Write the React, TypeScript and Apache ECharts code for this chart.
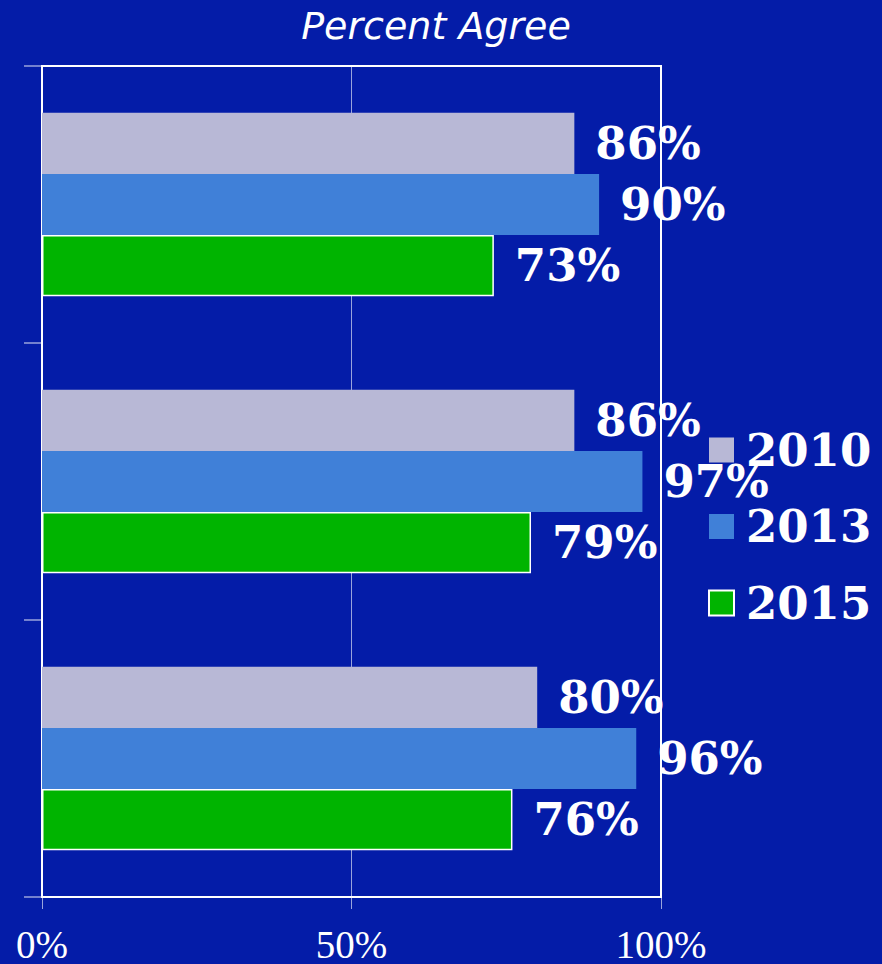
import React, { useEffect, useRef } from "react";
import * as echarts from "echarts";

const categories = ["Item 1", "Item 2", "Item 3"];
const seriesNames = ["2010", "2013", "2015"];
const values2010 = [86, 86, 80];
const values2013 = [90, 97, 96];
const values2015 = [73, 79, 76];
const xTicks = { min: 0, max: 100, interval: 50 };

const BG = "#041CA8";
const colors = ["#B8B8D6", "#4080D8", "#00B400"];

export default function App() {
  const ref = useRef<HTMLDivElement>(null);
  useEffect(() => {
    document.body.style.margin = "0";
    const chart = echarts.init(ref.current!, null, { renderer: "svg" });
    const labelStyle = {
      show: true,
      position: "right" as const,
      distance: 21,
      formatter: "{c}%",
      color: "#fff",
      fontFamily: "DejaVu Serif",
      fontWeight: "bold" as const,
      fontSize: 45,
    };
    const data = [values2010, values2013, values2015];
    chart.setOption({
      animation: false,
      backgroundColor: BG,
      title: {
        text: "Percent Agree",
        left: 431,
        top: 2,
        textAlign: "center",
        textStyle: {
          color: "#fff",
          fontFamily: "DejaVu Sans",
          fontStyle: "italic",
          fontWeight: "normal",
          fontSize: 38,
        },
      },
      grid: {
        left: 42,
        right: 221,
        top: 66,
        bottom: 67,
        outerBoundsMode: "none",
        containLabel: false,
        show: true,
        borderColor: "#fff",
        borderWidth: 2,
        backgroundColor: "transparent",
      },
      legend: {
        orient: "vertical",
        left: 708,
        top: 423,
        padding: 0,
        itemWidth: 25,
        itemHeight: 25,
        itemGap: 22.5,
        icon: "rect",
        data: seriesNames,
        textStyle: {
          color: "#fff",
          fontFamily: "DejaVu Serif",
          fontWeight: "bold",
          fontSize: 45,
          lineHeight: 50,
          padding: [4, 0, 0, 7],
        },
      },
      xAxis: {
        type: "value",
        min: xTicks.min,
        max: xTicks.max,
        interval: xTicks.interval,
        axisLine: { show: true, lineStyle: { color: "#fff", width: 2 } },
        axisTick: {
          show: true,
          length: 12,
          lineStyle: { color: "rgba(255,255,255,0.6)", width: 1 },
        },
        splitLine: {
          show: true,
          lineStyle: { color: "rgba(255,255,255,0.6)", width: 1 },
        },
        axisLabel: {
          formatter: "{value}%",
          color: "#fff",
          fontFamily: "Liberation Serif",
          fontSize: 39,
          lineHeight: 38,
          margin: 28,
        },
      },
      yAxis: {
        type: "category",
        data: categories,
        inverse: true,
        axisLine: { show: true, lineStyle: { color: "#fff", width: 2 } },
        axisTick: {
          show: true,
          length: 18,
          lineStyle: { color: "rgba(255,255,255,0.6)", width: 1.5 },
        },
        axisLabel: { show: false },
        splitLine: { show: false },
      },
      series: seriesNames.map((name, i) => ({
        name,
        type: "bar",
        data: data[i],
        barGap: "0%",
        barCategoryGap: "33.7%",
        itemStyle: {
          color: colors[i],
          borderColor: i === 2 ? "#fff" : "transparent",
          borderWidth: i === 2 ? 1.5 : 0,
        },
        label: labelStyle,
      })),
    });
    return () => chart.dispose();
  }, []);
  return (
    <div
      ref={ref}
      style={{ position: "absolute", left: 0, top: 0, width: 882, height: 964 }}
    />
  );
}
